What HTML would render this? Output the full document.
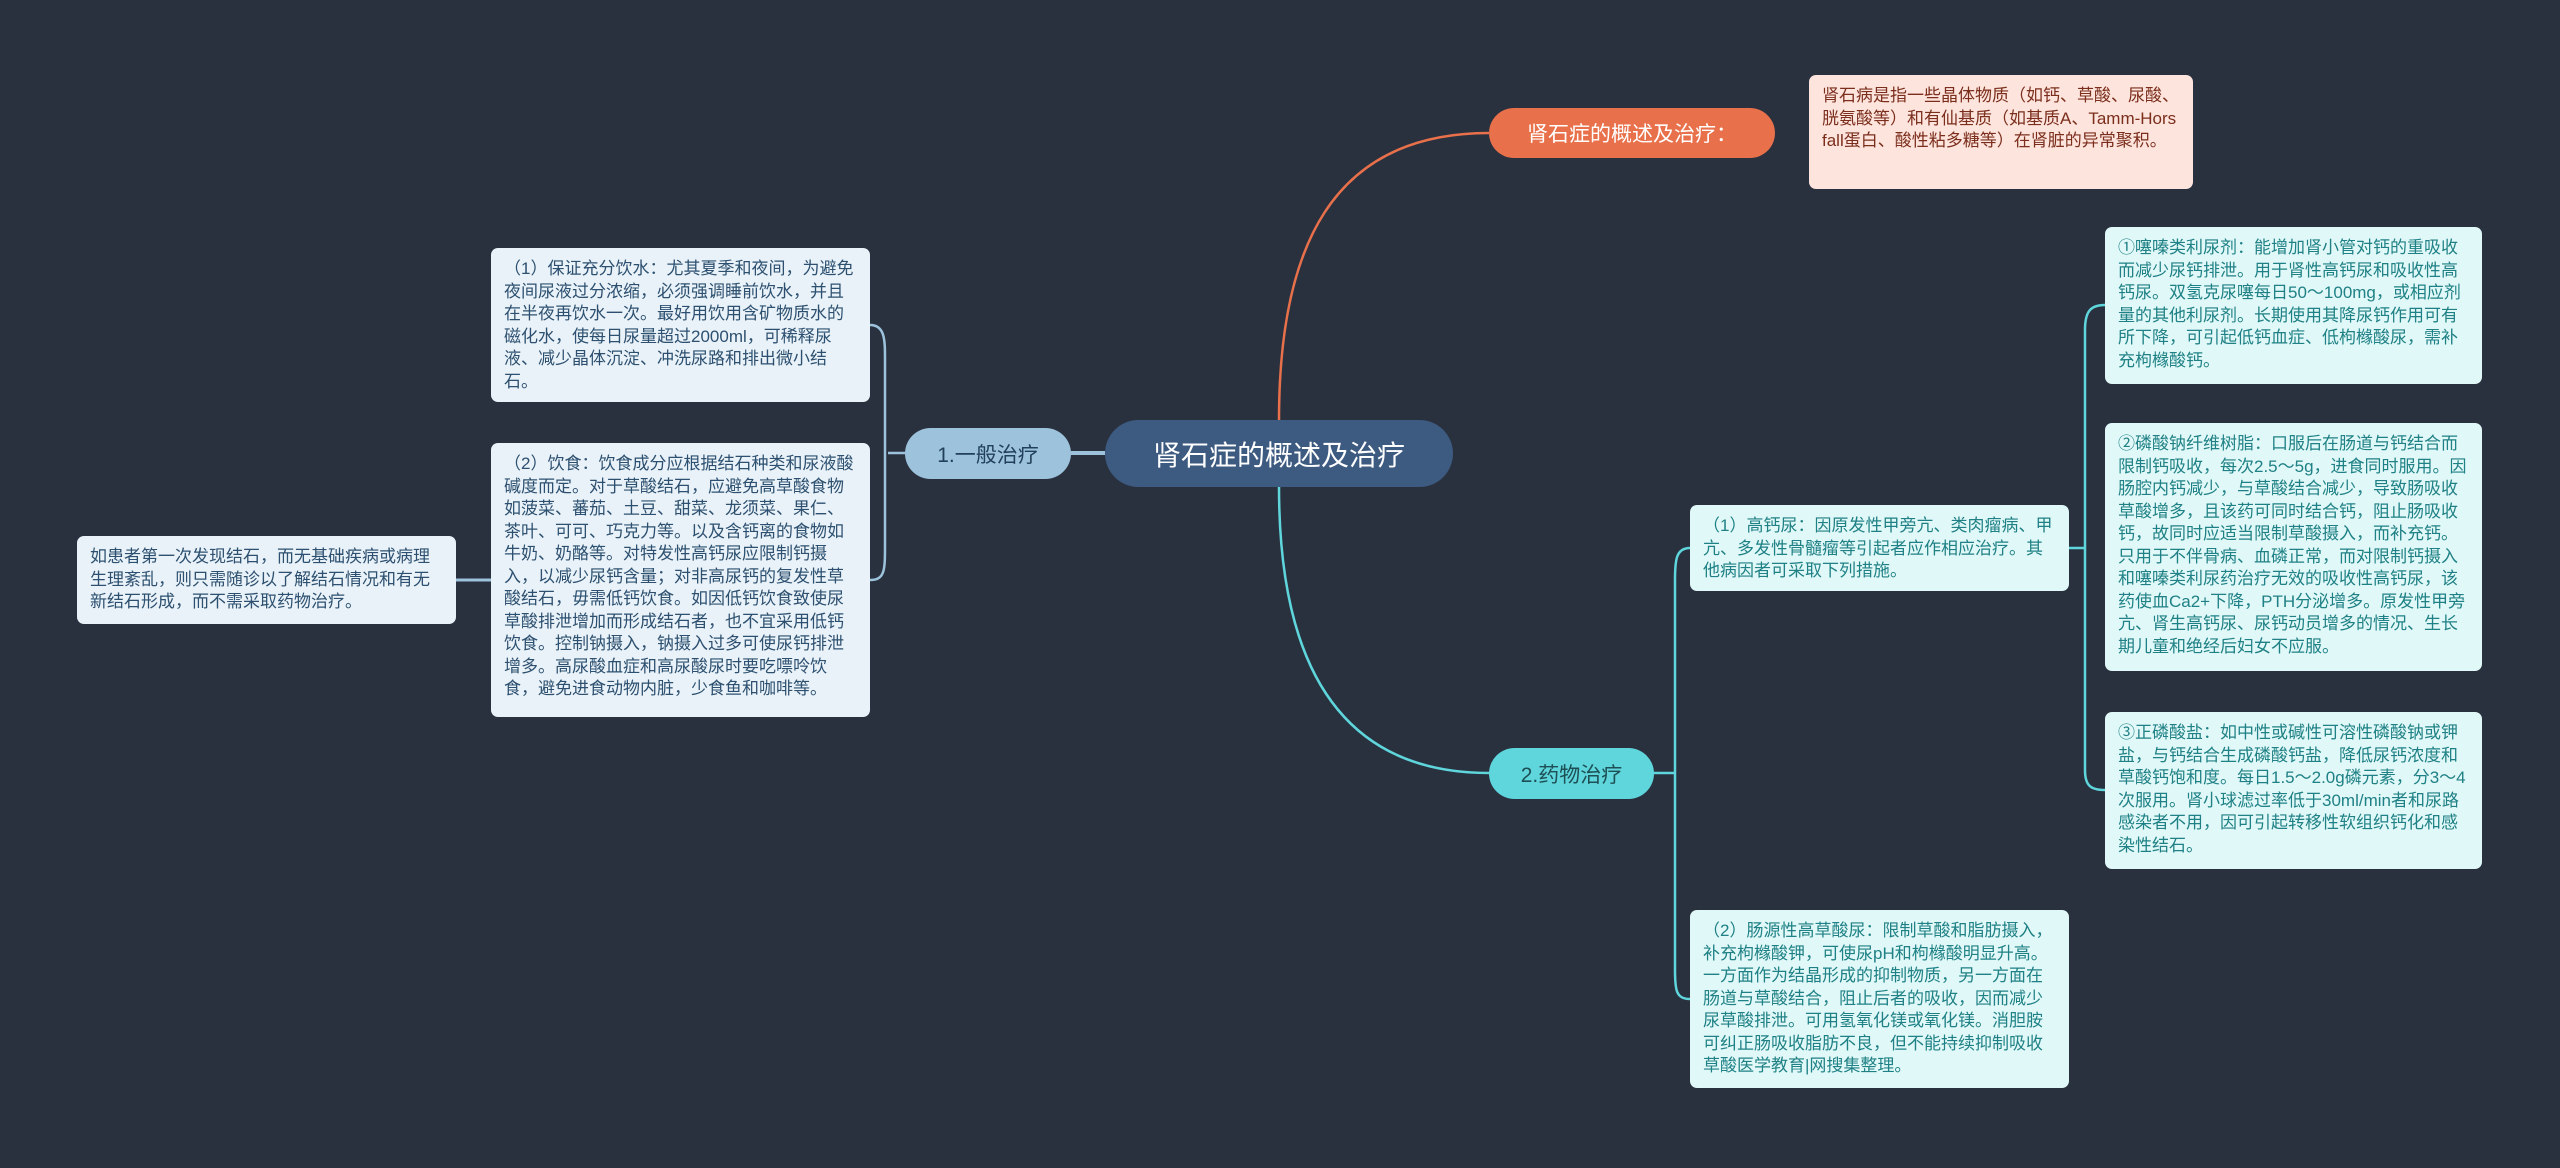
<!DOCTYPE html>
<html><head><meta charset="utf-8"><style>
body{margin:0;width:2560px;height:1168px;background:#29313f;position:relative;overflow:hidden;font-family:"Liberation Sans","Noto Sans CJK SC",sans-serif}
.b{position:absolute;box-sizing:border-box;border-radius:7px;font-size:17px;line-height:22.5px;padding:10px 13px;word-break:break-all}
.bl{background:#e9f2f8;color:#2d5070}
.cy{background:#e0f8f8;color:#1f8185}
.pk{background:#fde4dd;color:#7b2e1c}
.n{position:absolute;box-sizing:border-box;display:flex;align-items:center;justify-content:center;border-radius:26px}
svg{position:absolute;left:0;top:0}
</style></head><body>
<svg width="2560" height="1168" fill="none" stroke-width="2.5">
<path d="M1279 420 C1279 250 1330 133 1489 133" stroke="#e8704a"/>
<path d="M1279 487 C1279 650 1330 773 1489 773" stroke="#5fd5dc"/>
<path d="M1071 453 H1105" stroke="#9dc3dc" stroke-width="4"/>
<path d="M905 453 H888 M870 325 C885 325 885 340 885 360 V545 C885 570 885 580 870 580" stroke="#9dc3dc"/>
<path d="M456 580 H491" stroke="#9dc3dc" stroke-width="3"/>
<path d="M1489 773 H1675 M1690 548 C1676 548 1675 560 1675 580 V970 C1675 990 1676 999 1690 999" stroke="#5fd5dc"/>
<path d="M2069 548 H2085 M2105 305 C2090 305 2085 312 2085 330 V770 C2085 785 2090 790 2105 790" stroke="#5fd5dc"/>
</svg>
<div class="n" style="left:1105px;top:420px;width:348px;height:67px;background:#3d5a80;color:#fff;font-size:28px;border-radius:34px">肾石症的概述及治疗</div>
<div class="n" style="left:1489px;top:108px;width:286px;height:50px;background:#e8704a;color:#fff;font-size:21px">肾石症的概述及治疗：</div>
<div class="n" style="left:1489px;top:748px;width:165px;height:51px;background:#5fd5dc;color:#1d4f55;font-size:21px">2.药物治疗</div>
<div class="n" style="left:905px;top:428px;width:166px;height:51px;background:#9dc3dc;color:#23405a;font-size:21px">1.一般治疗</div>
<div class="b pk" style="left:1809px;top:75px;width:384px;height:114px">肾石病是指一些晶体物质（如钙、草酸、尿酸、胱氨酸等）和有仙基质（如基质A、Tamm-Horsfall蛋白、酸性粘多糖等）在肾脏的异常聚积。</div>
<div class="b cy" style="left:2105px;top:227px;width:377px;height:157px">①噻嗪类利尿剂：能增加肾小管对钙的重吸收而减少尿钙排泄。用于肾性高钙尿和吸收性高钙尿。双氢克尿噻每日50～100mg，或相应剂量的其他利尿剂。长期使用其降尿钙作用可有所下降，可引起低钙血症、低枸橼酸尿，需补充枸橼酸钙。</div>
<div class="b cy" style="left:2105px;top:423px;width:377px;height:248px">②磷酸钠纤维树脂：口服后在肠道与钙结合而限制钙吸收，每次2.5～5g，进食同时服用。因肠腔内钙减少，与草酸结合减少，导致肠吸收草酸增多，且该药可同时结合钙，阻止肠吸收钙，故同时应适当限制草酸摄入，而补充钙。只用于不伴骨病、血磷正常，而对限制钙摄入和噻嗪类利尿药治疗无效的吸收性高钙尿，该药使血Ca2+下降，PTH分泌增多。原发性甲旁亢、肾生高钙尿、尿钙动员增多的情况、生长期儿童和绝经后妇女不应服。</div>
<div class="b cy" style="left:2105px;top:712px;width:377px;height:157px">③正磷酸盐：如中性或碱性可溶性磷酸钠或钾盐，与钙结合生成磷酸钙盐，降低尿钙浓度和草酸钙饱和度。每日1.5～2.0g磷元素，分3～4次服用。肾小球滤过率低于30ml/min者和尿路感染者不用，因可引起转移性软组织钙化和感染性结石。</div>
<div class="b cy" style="left:1690px;top:505px;width:379px;height:86px">（1）高钙尿：因原发性甲旁亢、类肉瘤病、甲亢、多发性骨髓瘤等引起者应作相应治疗。其他病因者可采取下列措施。</div>
<div class="b cy" style="left:1690px;top:910px;width:379px;height:178px">（2）肠源性高草酸尿：限制草酸和脂肪摄入，补充枸橼酸钾，可使尿pH和枸橼酸明显升高。一方面作为结晶形成的抑制物质，另一方面在肠道与草酸结合，阻止后者的吸收，因而减少尿草酸排泄。可用氢氧化镁或氧化镁。消胆胺可纠正肠吸收脂肪不良，但不能持续抑制吸收草酸医学教育|网搜集整理。</div>
<div class="b bl" style="left:491px;top:248px;width:379px;height:154px">（1）保证充分饮水：尤其夏季和夜间，为避免夜间尿液过分浓缩，必须强调睡前饮水，并且在半夜再饮水一次。最好用饮用含矿物质水的磁化水，使每日尿量超过2000ml，可稀释尿液、减少晶体沉淀、冲洗尿路和排出微小结石。</div>
<div class="b bl" style="left:491px;top:443px;width:379px;height:274px">（2）饮食：饮食成分应根据结石种类和尿液酸碱度而定。对于草酸结石，应避免高草酸食物如菠菜、蕃茄、土豆、甜菜、龙须菜、果仁、茶叶、可可、巧克力等。以及含钙离的食物如牛奶、奶酪等。对特发性高钙尿应限制钙摄入，以减少尿钙含量；对非高尿钙的复发性草酸结石，毋需低钙饮食。如因低钙饮食致使尿草酸排泄增加而形成结石者，也不宜采用低钙饮食。控制钠摄入，钠摄入过多可使尿钙排泄增多。高尿酸血症和高尿酸尿时要吃嘌呤饮食，避免进食动物内脏，少食鱼和咖啡等。</div>
<div class="b bl" style="left:77px;top:536px;width:379px;height:88px">如患者第一次发现结石，而无基础疾病或病理生理紊乱，则只需随诊以了解结石情况和有无新结石形成，而不需采取药物治疗。</div>
</body></html>
